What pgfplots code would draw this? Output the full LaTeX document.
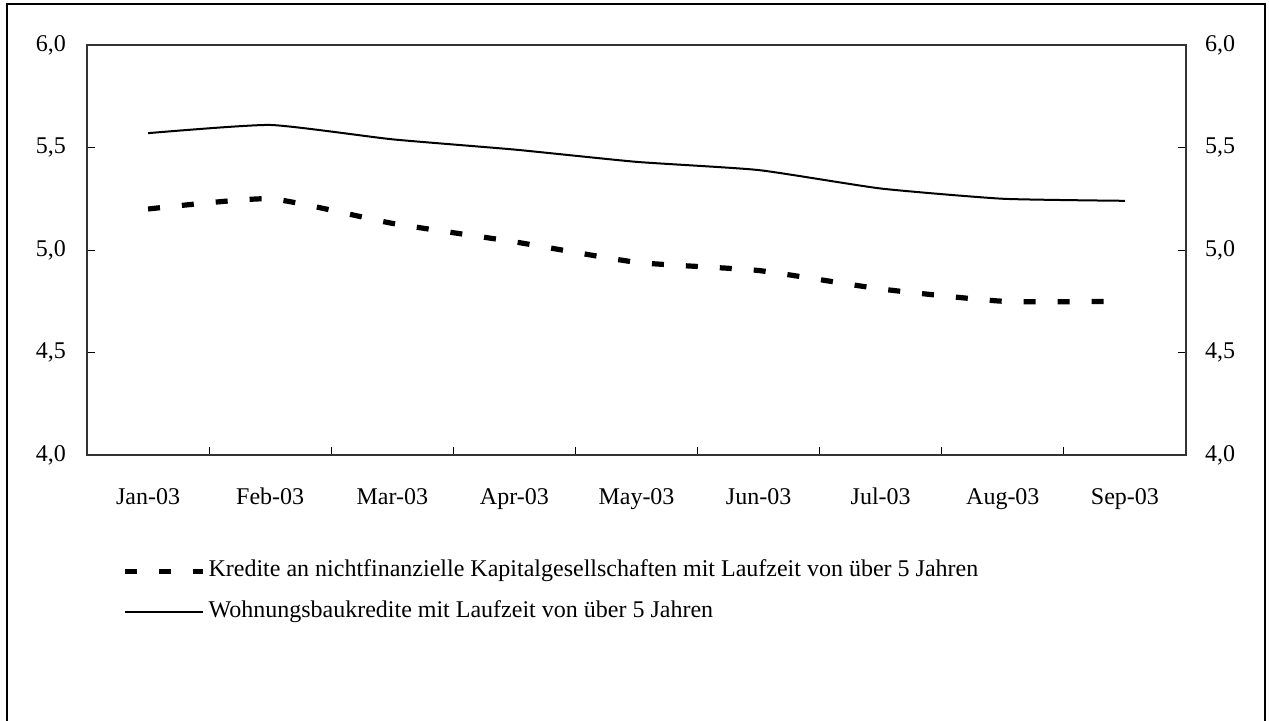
\documentclass[border=0pt]{standalone}
\usepackage{pgfplots}
\pgfplotsset{compat=1.18}
\usepackage{fontspec}
\setmainfont{Liberation Serif}
\begin{document}
\begin{tikzpicture}[font=\fontsize{12}{14}\selectfont]
\useasboundingbox (-43.5pt,-132.5pt) rectangle (591pt,227.5pt);
\draw[line width=1pt] (-40pt,-140pt) -- (-40pt,225.75pt) -- (589pt,225.75pt) -- (589pt,-140pt);
\begin{axis}[
  scale only axis, width=549.5pt, height=205pt,
  at={(0,0)}, anchor=south west,
  xmin=-0.5, xmax=8.5, ymin=4, ymax=6,
  axis line style={line width=0.8pt, black!80},
  xtick={0,...,8},
  xticklabels={Jan-03,Feb-03,Mar-03,Apr-03,May-03,Jun-03,Jul-03,Aug-03,Sep-03},
  minor xtick={0.5,1.5,...,7.5},
  major x tick style={draw=none},
  minor x tick style={black, line width=0.5pt},
  minor tick length=4pt, major tick length=4pt,
  xtick pos=bottom,
  ytick={4,4.5,5,5.5,6},
  ytick pos=left,
  tick align=inside,
  y tick style={black, line width=0.5pt},
  /pgf/number format/fixed, /pgf/number format/fixed zerofill,
  /pgf/number format/precision=1, /pgf/number format/use comma,
  /pgf/number format/assume math mode=true,
  yticklabel style={anchor=east, xshift=-7pt},
  xticklabel style={anchor=base, yshift=-24.5pt},
  tick label style={font=\fontsize{12}{14}\selectfont},
  legend style={draw=none, fill=none, at={(0.0318,-0.255)}, anchor=north west,
    inner xsep=0pt, inner ysep=0pt, row sep=9pt,
    nodes={inner sep=0pt, text height=8.5pt, text depth=3pt, anchor=west},
    font=\fontsize{12}{14}\selectfont},
  legend cell align=left,
  legend image code/.code={\draw[#1] (0pt,0pt) -- (39pt,0pt);},
  legend columns=1,
]
\addplot[black, line width=2.6pt, dash pattern=on 6pt off 11pt, smooth, tension=0.3]
  coordinates {(0,5.20) (1,5.25) (2,5.13) (3,5.04) (4,4.94) (5,4.90) (6,4.81) (7,4.75) (8,4.75)};
\addlegendentry{\hspace{1.5pt}Kredite an nichtfinanzielle Kapitalgesellschaften mit Laufzeit von über 5 Jahren}
\addplot[black, line width=1pt, smooth, tension=0.3]
  coordinates {(0,5.57) (1,5.61) (2,5.54) (3,5.49) (4,5.43) (5,5.39) (6,5.30) (7,5.25) (8,5.24)};
\addlegendentry{\hspace{1.5pt}Wohnungsbaukredite mit Laufzeit von über 5 Jahren}
\end{axis}
\begin{axis}[
  scale only axis, width=549.5pt, height=205pt,
  at={(0,0)}, anchor=south west,
  xmin=-0.5, xmax=8.5, ymin=4, ymax=6,
  axis line style={line width=0.8pt, black!80},
  xtick=\empty,
  ytick={4,4.5,5,5.5,6},
  ytick pos=right, yticklabel pos=right,
  tick align=inside, major tick length=4pt,
  y tick style={black, line width=0.5pt},
  /pgf/number format/fixed, /pgf/number format/fixed zerofill,
  /pgf/number format/precision=1, /pgf/number format/use comma,
  /pgf/number format/assume math mode=true,
  yticklabel style={anchor=west, xshift=6pt},
  tick label style={font=\fontsize{12}{14}\selectfont},
]
\end{axis}
\end{tikzpicture}
\end{document}
